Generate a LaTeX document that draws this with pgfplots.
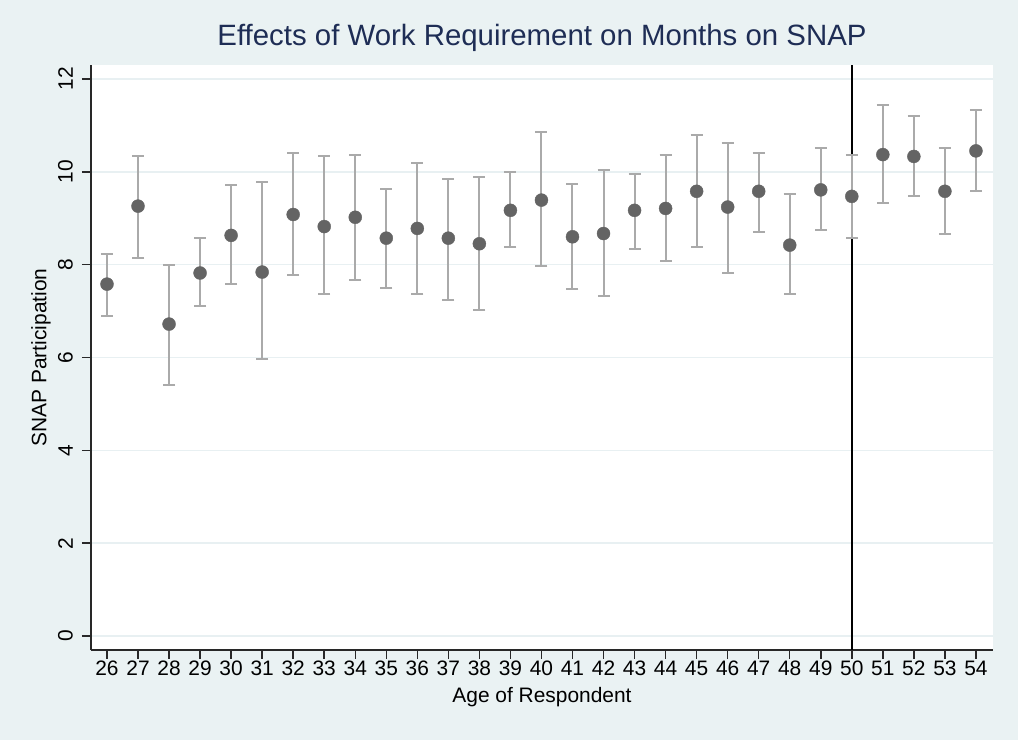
\documentclass[border=0pt]{standalone}
\usepackage{pgfplots}
\pgfplotsset{compat=1.18}
\usepackage{fontspec}
\setmainfont{Liberation Sans}
\definecolor{bgc}{RGB}{234,242,243}
\definecolor{titlec}{RGB}{30,45,85}
\definecolor{markc}{RGB}{100,100,100}
\definecolor{ebc}{RGB}{170,170,170}
\definecolor{gridc}{RGB}{232,240,242}
\definecolor{axisc}{RGB}{40,40,40}
\begin{document}
\begin{tikzpicture}
\fill[bgc] (0,0) rectangle (1018bp,740bp);
\useasboundingbox (0,0) rectangle (1018bp,740bp);
\begin{axis}[
  at={(91bp,90bp)}, anchor=south west,
  scale only axis, width=902bp, height=585bp,
  xmin=25.485, xmax=54.55, ymin=-0.3, ymax=12.3,
  axis background/.style={fill=white},
  axis lines=left,
  axis line style={-, line width=1.5bp, color=axisc},
  xtick={26,...,54}, ytick={0,2,...,12},
  ymajorgrids, grid style={gridc, line width=1.5bp},
  tick align=outside, major tick length=9bp,
  tick style={line width=1.5bp, color=axisc},
  /pgf/number format/assume math mode=true,
  ticklabel style={font=\fontsize{21}{24}\selectfont},
  yticklabel style={rotate=90, anchor=south, inner sep=0pt, yshift=9bp},
  xticklabel style={anchor=north, inner sep=0pt, yshift=-2bp},
  title={Effects of Work Requirement on Months on SNAP},
  title style={at={(rel axis cs:0.5,1)}, anchor=base, yshift=14bp, font=\fontsize{29.5}{32}\selectfont, color=titlec, inner sep=0pt},
  xlabel={Age of Respondent},
  ylabel={SNAP Participation},
  xlabel style={at={(rel axis cs:0.5,0)}, anchor=center, yshift=-47bp, font=\fontsize{21}{24}\selectfont},
  ylabel style={at={(rel axis cs:0,0.5)}, anchor=center, yshift=50bp, font=\fontsize{21}{24}\selectfont},
]
\addplot[black, line width=1.5bp] coordinates {(50,-0.3) (50,12.3)};
\addplot[only marks, mark=none,
  error bars/.cd, y dir=both, y explicit,
  error bar style={color=ebc, line width=2bp},
  error mark options={rotate=90, mark size=6bp, line width=2bp, color=ebc}]
  table[x=x, y=y, y error plus expr=\thisrow{hi}-\thisrow{y}, y error minus expr=\thisrow{y}-\thisrow{lo}] {
x y hi lo
26 7.58 8.22 6.90
27 9.26 10.33 8.15
28 6.72 8.00 5.40
29 7.82 8.57 7.10
30 8.63 9.72 7.58
31 7.84 9.77 5.96
32 9.08 10.40 7.77
33 8.82 10.33 7.36
34 9.02 10.37 7.66
35 8.57 9.62 7.50
36 8.78 10.18 7.36
37 8.57 9.85 7.23
38 8.45 9.88 7.02
39 9.17 9.99 8.37
40 9.39 10.86 7.96
41 8.60 9.73 7.47
42 8.67 10.03 7.32
43 9.17 9.96 8.33
44 9.21 10.37 8.07
45 9.58 10.79 8.37
46 9.24 10.63 7.83
47 9.58 10.41 8.71
48 8.42 9.52 7.36
49 9.61 10.52 8.75
50 9.47 10.37 8.57
51 10.37 11.43 9.32
52 10.33 11.20 9.48
53 9.58 10.52 8.67
54 10.45 11.32 9.58
};
\addplot[only marks, mark=*, mark size=6.5bp, mark options={fill=markc, draw=markc}]
  table[x=x, y=y] {
x y
26 7.58
27 9.26
28 6.72
29 7.82
30 8.63
31 7.84
32 9.08
33 8.82
34 9.02
35 8.57
36 8.78
37 8.57
38 8.45
39 9.17
40 9.39
41 8.60
42 8.67
43 9.17
44 9.21
45 9.58
46 9.24
47 9.58
48 8.42
49 9.61
50 9.47
51 10.37
52 10.33
53 9.58
54 10.45
};
\end{axis}
\end{tikzpicture}
\end{document}
